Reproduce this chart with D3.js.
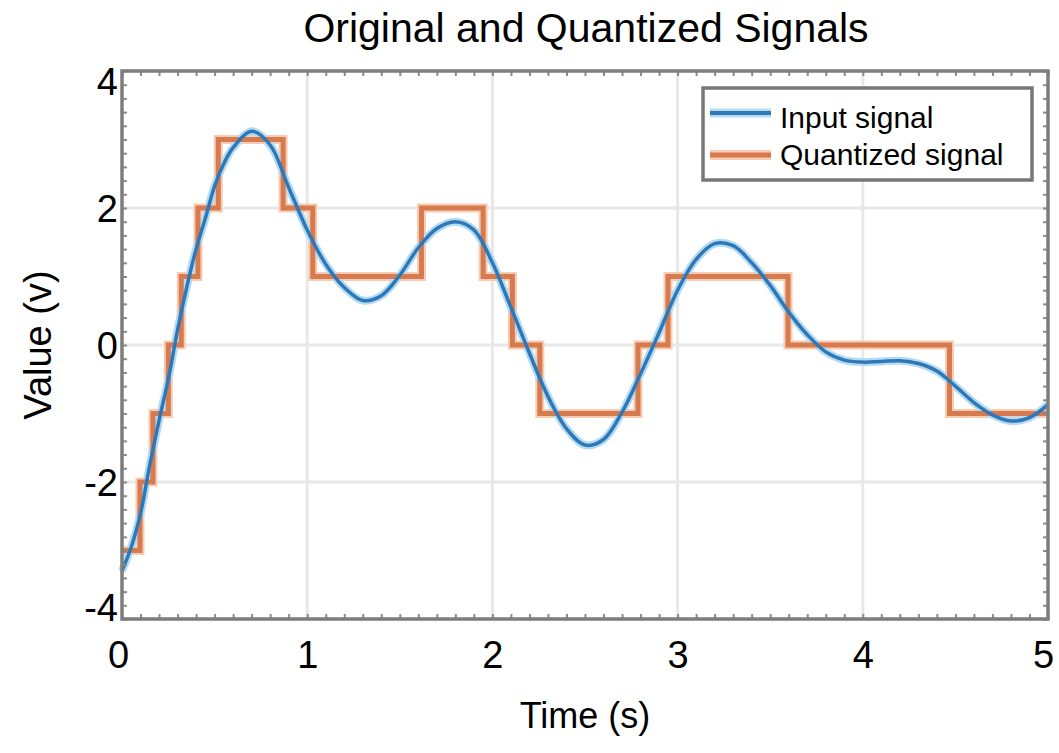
<!DOCTYPE html>
<meta charset="utf-8">
<style>
body { margin: 0; background: #fff; }
text { font-family: "Liberation Sans", Arial, sans-serif; fill: #000; }
g.grid line { stroke: #e8e8e8; stroke-width: 3px; }
g.minor line { stroke: #8a8a8a; stroke-width: 2px; }
g.minor path, g.labels path { display: none; }
g.labels line { display: none; }
</style>
<body>
<div id="chart"></div>
<script src="https://cdn.jsdelivr.net/npm/d3@7"></script>
<script>
// input signal
var timeS = [0, 0.05, 0.1, 0.15, 0.2, 0.25, 0.3, 0.35, 0.4, 0.45, 0.5, 0.55, 0.6, 0.7, 0.8, 0.9,
             1.0, 1.1, 1.2, 1.3, 1.4, 1.5, 1.6, 1.7, 1.8, 1.9, 2.0, 2.1, 2.2, 2.3, 2.4, 2.5,
             2.6, 2.7, 2.8, 2.9, 3.0, 3.1, 3.2, 3.3, 3.4, 3.5, 3.6, 3.7, 3.8, 3.9, 4.0, 4.1,
             4.2, 4.3, 4.4, 4.5, 4.6, 4.7, 4.8, 4.9, 5.0];
var inputV = [-3.30, -2.95, -2.46, -1.75, -1.10, -0.50, 0.22, 0.85, 1.40, 1.85, 2.32, 2.65, 2.88, 3.12, 2.92, 2.30,
              1.68, 1.18, 0.84, 0.65, 0.72, 1.02, 1.42, 1.70, 1.80, 1.68, 1.20, 0.55, -0.12, -0.75, -1.22, -1.46,
              -1.38, -0.98, -0.42, 0.18, 0.80, 1.25, 1.48, 1.45, 1.20, 0.87, 0.48, 0.15, -0.10, -0.22, -0.25, -0.24,
              -0.23, -0.27, -0.38, -0.60, -0.84, -1.02, -1.11, -1.06, -0.87];

// quantized signal: time where each level starts, and the level
var stepTimes  = [0, 0.097, 0.167, 0.25, 0.32, 0.41, 0.52, 0.87, 1.03, 1.617, 1.95, 2.108, 2.256, 2.786, 2.948, 3.596, 4.468, 5.0];
var stepLevels = [-3, -2, -1, 0, 1, 2, 3, 2, 1, 2, 1, 0, -1, 0, 1, 0, -1, -1];

var xTicks = [0, 1, 2, 3, 4, 5];
var yTicks = [-4, -2, 0, 2, 4];
var seriesNames = ["Input signal", "Quantized signal"];

var width = 1059, height = 753;
var plotLeft = 122, plotRight = 1048, plotTop = 71, plotBottom = 619;

var blue = "#2f78b8", blueGlow = "#b5dbf3";
var orange = "#d67a50", orangeGlow = "#f9cbb0";

var svg = d3.select("#chart").append("svg")
    .attr("width", width)
    .attr("height", height);

var x = d3.scaleLinear().domain([0, 5]).range([plotLeft, plotRight]);
var y = d3.scaleLinear().domain([-4, 4]).range([plotBottom, plotTop]);

// gridlines
svg.append("g").attr("class", "grid")
    .selectAll("line").data(xTicks.slice(1, -1)).enter().append("line")
    .attr("x1", function (d) { return x(d); }).attr("x2", function (d) { return x(d); })
    .attr("y1", plotTop).attr("y2", plotBottom);
svg.append("g").attr("class", "grid")
    .selectAll("line").data(yTicks.slice(1, -1)).enter().append("line")
    .attr("y1", function (d) { return y(d); }).attr("y2", function (d) { return y(d); })
    .attr("x1", plotLeft).attr("x2", plotRight);

// lines
var inputData = timeS.map(function (t, i) { return [t, inputV[i]]; });
var stepData = stepTimes.map(function (t, i) { return [t, stepLevels[i]]; });

var smooth = d3.line()
    .x(function (d) { return x(d[0]); })
    .y(function (d) { return y(d[1]); })
    .curve(d3.curveCatmullRom.alpha(0.5));
var steps = d3.line()
    .x(function (d) { return x(d[0]); })
    .y(function (d) { return y(d[1]); })
    .curve(d3.curveStepAfter);

var plot = svg.append("g");
plot.append("path").attr("d", steps(stepData))
    .attr("fill", "none").attr("stroke", orangeGlow).attr("stroke-width", 9);
plot.append("path").attr("d", smooth(inputData))
    .attr("fill", "none").attr("stroke", blueGlow).attr("stroke-width", 8);
plot.append("path").attr("d", steps(stepData))
    .attr("fill", "none").attr("stroke", orange).attr("stroke-width", 5);
plot.append("path").attr("d", smooth(inputData))
    .attr("fill", "none").attr("stroke", blue).attr("stroke-width", 3.5);

// frame minor ticks
var xMinor = d3.range(0, 51).map(function (i) { return i / 10; });
var yMinor = d3.range(0, 41).map(function (i) { return -4 + i / 5; });
svg.append("g").attr("class", "minor")
    .attr("transform", "translate(0," + plotBottom + ")")
    .call(d3.axisBottom(x).tickValues(xMinor).tickSize(-5).tickFormat(""));
svg.append("g").attr("class", "minor")
    .attr("transform", "translate(0," + plotTop + ")")
    .call(d3.axisTop(x).tickValues(xMinor).tickSize(-5).tickFormat(""));
svg.append("g").attr("class", "minor")
    .attr("transform", "translate(" + plotLeft + ",0)")
    .call(d3.axisLeft(y).tickValues(yMinor).tickSize(-5).tickFormat(""));
svg.append("g").attr("class", "minor")
    .attr("transform", "translate(" + plotRight + ",0)")
    .call(d3.axisRight(y).tickValues(yMinor).tickSize(-5).tickFormat(""));

svg.append("rect")
    .attr("x", plotLeft).attr("y", plotTop)
    .attr("width", plotRight - plotLeft).attr("height", plotBottom - plotTop)
    .attr("fill", "none").attr("stroke", "#7d7d7d").attr("stroke-width", 3.5);

// tick labels (plain hyphen for negatives, as in the original)
var xLab = svg.append("g").attr("class", "labels")
    .attr("transform", "translate(0," + plotBottom + ")")
    .call(d3.axisBottom(x).tickValues(xTicks).tickSize(0).tickPadding(22).tickFormat(String));
xLab.selectAll("text").style("font-size", "38px").attr("dy", "0.71em")
    .attr("x", function (d) { return d === 0 ? -4 : d === 5 ? -5 : 0; });

var yLab = svg.append("g").attr("class", "labels")
    .attr("transform", "translate(" + (plotLeft - 4) + ",0)")
    .call(d3.axisLeft(y).tickValues(yTicks).tickSize(0).tickPadding(0).tickFormat(String));
yLab.selectAll("text").style("font-size", "38px")
    .attr("dy", function (d) { return d === 4 ? "0.62em" : d === -4 ? "0.05em" : "0.35em"; });

// titles
svg.append("text")
    .attr("x", (plotLeft + plotRight) / 2 + 1).attr("y", 42)
    .attr("text-anchor", "middle")
    .style("font-size", "41px")
    .text("Original and Quantized Signals");

svg.append("text")
    .attr("x", (plotLeft + plotRight) / 2).attr("y", 728)
    .attr("text-anchor", "middle")
    .style("font-size", "36px")
    .text("Time (s)");

svg.append("text")
    .attr("transform", "translate(51," + y(0) + ") rotate(-90)")
    .attr("text-anchor", "middle")
    .style("font-size", "38px")
    .text("Value (v)");

// legend
var legend = svg.append("g").attr("transform", "translate(703,88)");
legend.append("rect")
    .attr("width", 329).attr("height", 92)
    .attr("fill", "#fff").attr("stroke", "#777").attr("stroke-width", 3.5);
var legendRows = [
    {name: seriesNames[0], color: blue, glow: blueGlow, w: 4, y: 25, ty: 40},
    {name: seriesNames[1], color: orange, glow: orangeGlow, w: 5, y: 67, ty: 77}
];
legendRows.forEach(function (r) {
    legend.append("line").attr("x1", 7).attr("x2", 68).attr("y1", r.y).attr("y2", r.y)
        .attr("stroke", r.glow).attr("stroke-width", r.w + 5);
    legend.append("line").attr("x1", 7).attr("x2", 68).attr("y1", r.y).attr("y2", r.y)
        .attr("stroke", r.color).attr("stroke-width", r.w);
    legend.append("text").attr("x", 77).attr("y", r.ty)
        .style("font-size", "30px").text(r.name);
});
</script>
